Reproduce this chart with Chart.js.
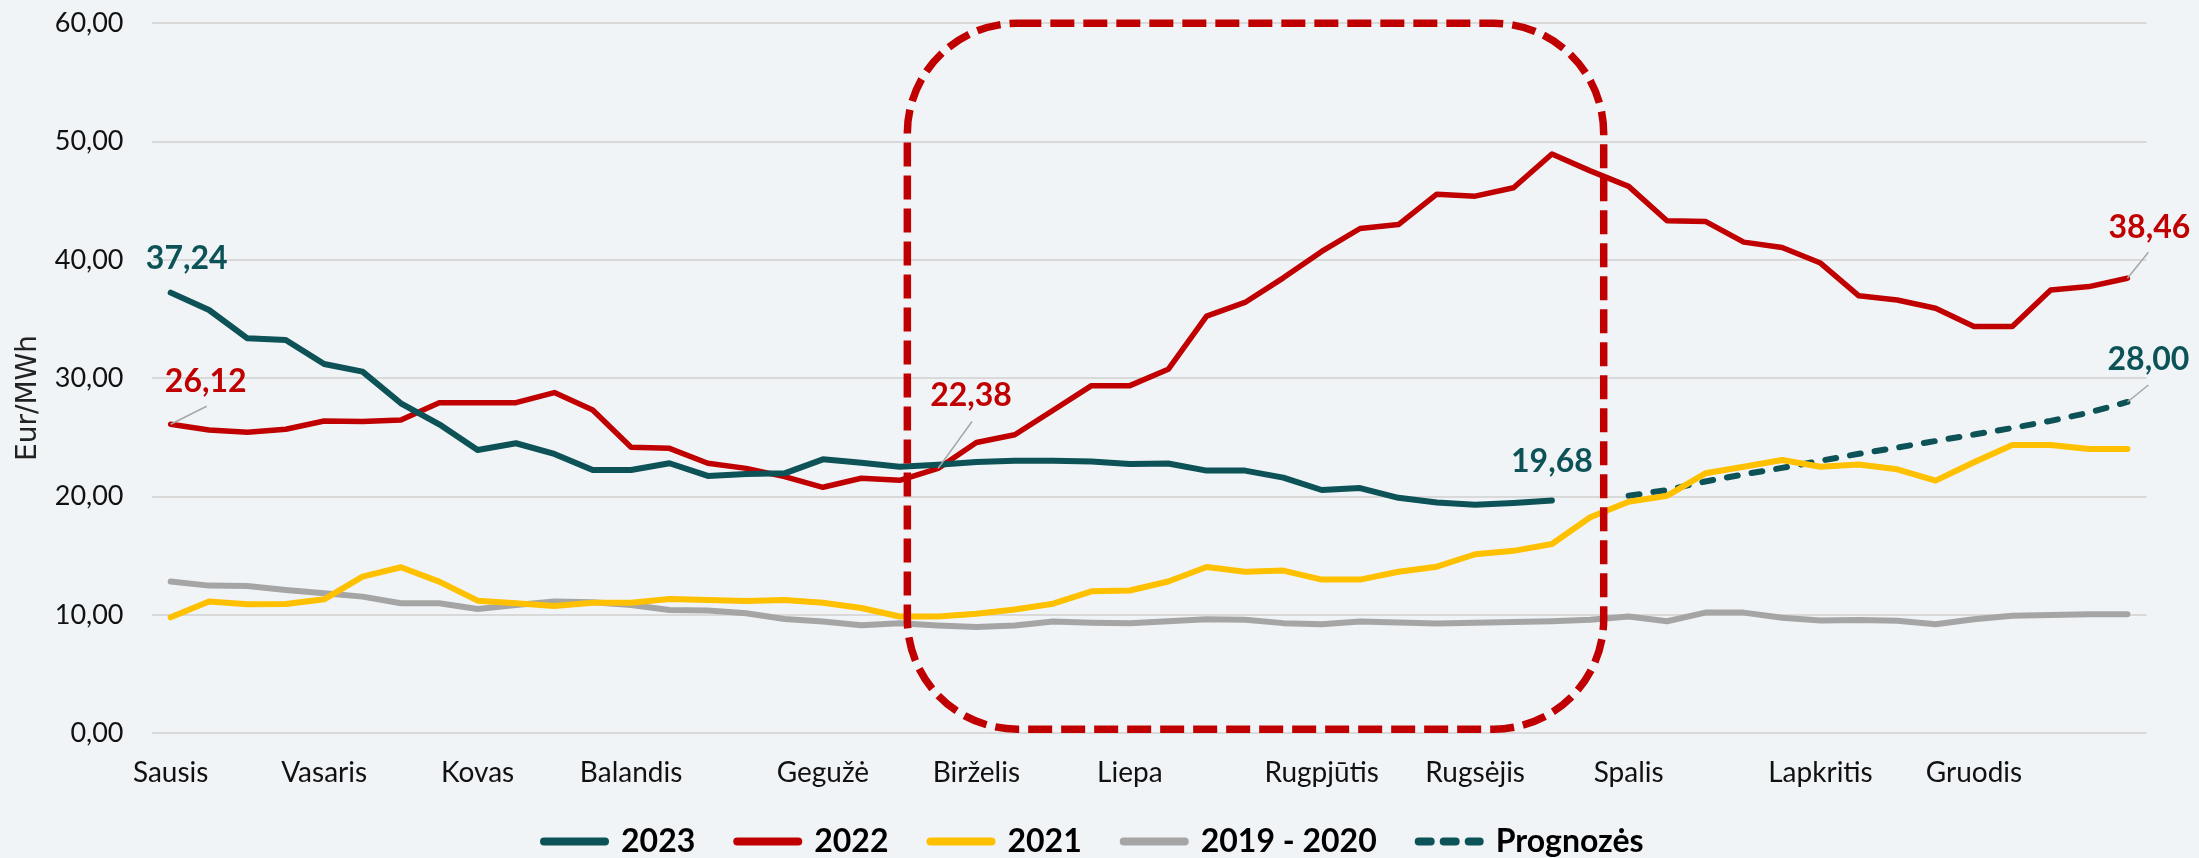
<!DOCTYPE html>
<html lang="lt">
<head>
<meta charset="utf-8">
<title>Elektros kainos</title>
<script src="https://cdn.jsdelivr.net/npm/chart.js@4.4.1/dist/chart.umd.min.js"></script>
<style>
  html, body { margin: 0; padding: 0; background: #F0F4F7; }
  #wrap { position: relative; width: 2199px; height: 858px; }
</style>
</head>
<body>
<div id="wrap"><canvas id="priceChart"></canvas></div>
<script>
// 52 weekly categories, month names shown on the week where each month starts
const weeks = Array.from({ length: 52 }, (_, i) => 'W' + (i + 1));
const months = ['Sausis', 'Vasaris', 'Kovas', 'Balandis', 'Gegužė', 'Birželis',
  'Liepa', 'Rugpjūtis', 'Rugsėjis', 'Spalis', 'Lapkritis', 'Gruodis'];
const monthWeek = [0, 4, 8, 12, 17, 21, 25, 30, 34, 38, 43, 47];

// Series values, Eur/MWh
const y2023 = [37.24, 35.77, 33.38, 33.24, 31.21, 30.56, 27.89, 26.11, 23.94, 24.51,
  23.61, 22.25, 22.25, 22.82, 21.75, 21.92, 21.97, 23.15, 22.86, 22.53,
  22.70, 22.93, 23.03, 23.03, 22.96, 22.76, 22.80, 22.20, 22.20, 21.61,
  20.56, 20.72, 19.90, 19.50, 19.31, 19.47, 19.68,
  null, null, null, null, null, null, null, null, null, null, null, null, null, null, null];
const y2022 = [26.12, 25.63, 25.44, 25.69, 26.39, 26.34, 26.48, 27.94, 27.94, 27.94,
  28.79, 27.32, 24.17, 24.08, 22.82, 22.39, 21.69, 20.79, 21.55, 21.38,
  22.38, 24.57, 25.23, 27.30, 29.38, 29.38, 30.76, 35.26, 36.41, 38.49,
  40.72, 42.66, 42.99, 45.56, 45.39, 46.10, 48.95, 47.53, 46.22, 43.32,
  43.26, 41.51, 41.05, 39.74, 36.97, 36.62, 35.92, 34.37, 34.37, 37.46,
  37.75, 38.46];
const y2021 = [9.80, 11.13, 10.90, 10.93, 11.32, 13.24, 14.03, 12.82, 11.21, 10.99,
  10.76, 11.04, 11.04, 11.35, 11.27, 11.18, 11.27, 11.04, 10.59, 9.87,
  9.87, 10.10, 10.46, 10.95, 12.00, 12.07, 12.83, 14.05, 13.65, 13.75,
  12.99, 12.99, 13.65, 14.08, 15.13, 15.42, 16.00, 18.26, 19.57, 20.07,
  21.97, 22.53, 23.09, 22.53, 22.72, 22.31, 21.35, 22.90, 24.37, 24.37,
  24.03, 24.03];
const y2019_2020 = [12.82, 12.48, 12.45, 12.11, 11.83, 11.55, 10.99, 10.99, 10.51, 10.85,
  11.13, 11.07, 10.85, 10.42, 10.37, 10.14, 9.66, 9.44, 9.14, 9.31,
  9.11, 8.98, 9.11, 9.44, 9.34, 9.31, 9.47, 9.64, 9.60, 9.31,
  9.21, 9.44, 9.37, 9.28, 9.34, 9.40, 9.47, 9.60, 9.87, 9.47,
  10.20, 10.20, 9.77, 9.54, 9.58, 9.52, 9.21, 9.63, 9.94, 10.00,
  10.06, 10.06];
const forecast = [null, null, null, null, null, null, null, null, null, null,
  null, null, null, null, null, null, null, null, null, null,
  null, null, null, null, null, null, null, null, null, null,
  null, null, null, null, null, null, null, null,
  20.07, 20.56, 21.28, 21.88, 22.43, 23.03, 23.62, 24.15, 24.70, 25.25,
  25.80, 26.40, 27.10, 28.00];

// Y axis ticks
const yMin = 0;
const yMax = 60;
const yStep = 10;

const TEAL = '#0C5257';
const RED = '#C00000';
const YELLOW = '#FFC000';
const GREY = '#A5A5A5';

const fmt = v => v.toFixed(2).replace('.', ',');

// Labels next to selected points (offsets in px from the point)
const valueLabels = [
  { dataset: 0, index: 0, dx: 16, dy: -34 },
  { dataset: 1, index: 0, dx: 35, dy: -43, lx: 36, ly: -18 },
  { dataset: 1, index: 20, dx: 33, dy: -73, lx: 34, ly: -47 },
  { dataset: 0, index: 36, dx: 0, dy: -39 },
  { dataset: 1, index: 51, dx: 22, dy: -51, lx: 21, ly: -26 },
  { dataset: 4, index: 51, dx: 21, dy: -42, lx: 21, ly: -17 }
];

// Dashed highlight frame (category index range, value range)
const frame = { from: 19.2, to: 37.35, low: 0.35, high: 60, radius: 110 };

const framePlugin = {
  id: 'frame',
  afterDatasetsDraw(chart) {
    const { ctx, scales: { x, y } } = chart;
    const l = x.getPixelForValue(frame.from);
    const r = x.getPixelForValue(frame.to);
    const t = y.getPixelForValue(frame.high);
    const b = y.getPixelForValue(frame.low);
    const rad = frame.radius;
    ctx.save();
    ctx.strokeStyle = RED;
    ctx.lineWidth = 7.5;
    ctx.setLineDash([24, 9]);
    ctx.beginPath();
    ctx.moveTo(l + rad, t);
    ctx.lineTo(r - rad, t);
    ctx.arcTo(r, t, r, t + rad, rad);
    ctx.lineTo(r, b - rad);
    ctx.arcTo(r, b, r - rad, b, rad);
    ctx.lineTo(l + rad, b);
    ctx.arcTo(l, b, l, b - rad, rad);
    ctx.lineTo(l, t + rad);
    ctx.arcTo(l, t, l + rad, t, rad);
    ctx.closePath();
    ctx.stroke();
    ctx.restore();
  }
};

const labelPlugin = {
  id: 'valueLabels',
  afterDraw(chart) {
    const ctx = chart.ctx;
    ctx.save();
    ctx.font = 'bold 32px Lato';
    ctx.textAlign = 'center';
    ctx.textBaseline = 'middle';
    valueLabels.forEach(lab => {
      const ds = chart.data.datasets[lab.dataset];
      const pt = chart.getDatasetMeta(lab.dataset).data[lab.index];
      if (lab.lx !== undefined) {
        ctx.strokeStyle = '#A6A6A6';
        ctx.lineWidth = 1.5;
        ctx.setLineDash([]);
        ctx.beginPath();
        ctx.moveTo(pt.x, pt.y);
        ctx.lineTo(pt.x + lab.lx, pt.y + lab.ly);
        ctx.stroke();
      }
      ctx.fillStyle = ds.borderColor;
      ctx.fillText(fmt(ds.data[lab.index]), pt.x + lab.dx, pt.y + lab.dy);
    });
    ctx.restore();
  }
};

const axisTitlePlugin = {
  id: 'axisTitle',
  afterDraw(chart) {
    const ctx = chart.ctx;
    ctx.save();
    ctx.translate(29, 398);
    ctx.rotate(-Math.PI / 2);
    ctx.font = '28px "DejaVu Sans"';
    ctx.fillStyle = '#222';
    ctx.textAlign = 'center';
    ctx.textBaseline = 'middle';
    ctx.fillText('Eur/MWh', 0, 0);
    ctx.restore();
  }
};

// Lift the top of the legend box so its row sits closer to the axis labels
const legendShift = {
  id: 'legendShift',
  afterLayout(chart) {
    const lg = chart.legend;
    if (lg) {
      lg.top -= 11.8;
      lg.height += 11.8;
    }
  }
};

function initChart() {
  const labels = weeks.map((w, i) => {
    const m = monthWeek.indexOf(i);
    return m >= 0 ? months[m] : '';
  });

  const line = (label, data, color, width, dash) => ({
    label,
    data,
    borderColor: color,
    backgroundColor: color,
    borderWidth: width,
    borderDash: dash || [],
    borderCapStyle: 'round',
    borderJoinStyle: 'round',
    pointRadius: 0,
    pointHoverRadius: 0,
    tension: 0,
    fill: false,
    spanGaps: false
  });

  new Chart(document.getElementById('priceChart'), {
    type: 'line',
    data: {
      labels,
      datasets: [
        line('2023', y2023, TEAL, 6),
        line('2022', y2022, RED, 5.5),
        line('2021', y2021, YELLOW, 6),
        line('2019 - 2020', y2019_2020, GREY, 6),
        line('Prognozės', forecast, TEAL, 6, [11, 14])
      ]
    },
    options: {
      responsive: true,
      maintainAspectRatio: false,
      animation: false,
      layout: { padding: { top: 23.3, left: 41, right: 52.4, bottom: 0 } },
      plugins: {
        tooltip: { enabled: false },
        legend: {
          position: 'bottom',
          maxHeight: 62.7,
          labels: {
            usePointStyle: true,
            pointStyleWidth: 61,
            padding: 42,
            color: '#000',
            font: { family: 'Lato', size: 32, weight: 'bold' },
            generateLabels: chart => chart.data.datasets.map((ds, i) => ({
              text: ds.label,
              datasetIndex: i,
              pointStyle: 'line',
              strokeStyle: ds.borderColor,
              fillStyle: ds.borderColor,
              lineWidth: 8,
              lineDash: ds.borderDash.length ? [12, 13] : [],
              lineCap: 'round',
              fontColor: '#000',
              hidden: false
            }))
          }
        }
      },
      scales: {
        x: {
          offset: true,
          grid: { display: false, drawTicks: false },
          border: { display: false },
          afterFit: s => { s.height = 62; },
          ticks: {
            autoSkip: false,
            maxRotation: 0,
            minRotation: 0,
            padding: 23,
            color: '#111',
            font: { family: 'Lato', size: 28 }
          }
        },
        y: {
          min: yMin,
          max: yMax,
          afterFit: s => { s.width = 110.5; },
          grid: {
            color: '#D9D9D9',
            lineWidth: 2,
            drawTicks: true,
            tickLength: 28,
            tickColor: 'rgba(0,0,0,0)'
          },
          border: { display: false },
          ticks: {
            stepSize: yStep,
            padding: 0,
            color: '#111',
            font: { family: 'Lato', size: 27 },
            callback: v => fmt(v)
          }
        }
      }
    },
    plugins: [framePlugin, labelPlugin, axisTitlePlugin, legendShift]
  });
}

document.addEventListener('DOMContentLoaded', initChart);
</script>
</body>
</html>
